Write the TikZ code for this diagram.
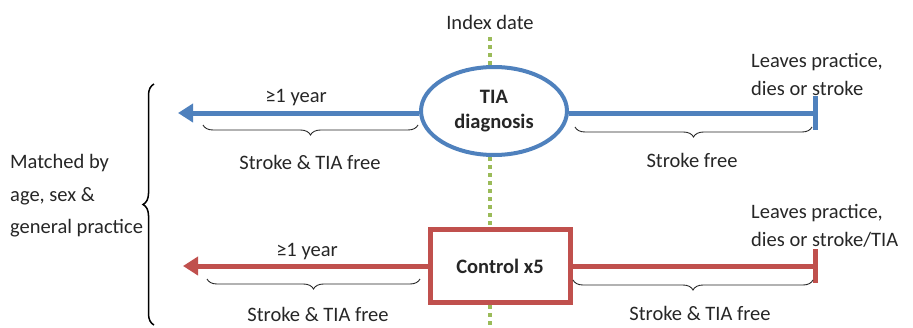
\documentclass[tikz,border=0pt]{standalone}
\usepackage{fontspec}
\setmainfont{Carlito}
\usetikzlibrary{arrows.meta,decorations.pathreplacing,shapes.geometric}
\definecolor{tiablue}{RGB}{79,129,189}
\definecolor{ctlred}{RGB}{192,80,77}
\definecolor{idxgreen}{RGB}{155,187,89}
\tikzset{lbl/.style={font=\fontsize{20.5}{28}\selectfont, text=black!85, inner sep=1pt}}
\tikzset{bl/.style={lbl, align=left}}
\tikzset{bb/.style={lbl, font=\fontsize{20.5}{25}\selectfont\bfseries, align=center, fill=white}}
\tikzset{br/.style={decorate, decoration={brace, mirror, amplitude=10pt}, line width=0.9pt, black!85}}
\tikzset{tline/.style={line width=5pt}}
\tikzset{idxdots/.style={idxgreen, line width=4pt, dash pattern=on 3.5pt off 4.5pt}}

\begin{document}
\begin{tikzpicture}[x=1pt, y=-1pt]
                \useasboundingbox (0,0) rectangle (913,327);
                % index date line
                \node[lbl] (idx) at (490,22) {Index date};
                \node[draw=tiablue, line width=4pt, ellipse, minimum width=146pt, minimum height=88pt, bb] (tia) at (494,111) {TIA\\diagnosis};
                \node[draw=ctlred, line width=5pt, minimum width=140pt, minimum height=73pt, bb] (ctl) at (500,266) {Control x5};
                \coordinate (dtop) at (490,37);
                \coordinate (dbot) at (490,327);
                \draw[idxdots] (dtop) -- (dtop |- tia.north);
                \draw[idxdots] (dtop |- tia.south) -- (dtop |- ctl.north);
                \draw[idxdots] (dtop |- ctl.south) -- (dbot);
                % TIA row
                \coordinate (tiaa) at (178,113);
                \coordinate (tiae) at (818,113);
                \draw[tline, tiablue, -{Triangle[width=18pt, length=15pt]}] (tia.west |- tiae) -- (tiaa);
                \draw[tline, tiablue, -{Bar[width=34pt]}] (tia.east |- tiae) -- (tiae);
                \node[lbl] (ty) at (296,98) {≥1 year};
                \coordinate (b1a) at (203,125);
                \coordinate (b1b) at (418,125);
                \coordinate (b2a) at (575,127);
                \coordinate (b2b) at (812,127);
                \draw[br] (b1a) -- (b1b);
                \draw[br] (b2a) -- (b2b);
                \node[lbl] (tf1) at (310,162) {Stroke \& TIA free};
                \node[lbl] (tf2) at (692,160) {Stroke free};
                \node[bl, anchor=west] (tl) at (750,74) {Leaves practice,\\dies or stroke};
                % control row
                \coordinate (ctla) at (183,266);
                \coordinate (ctle) at (818,266);
                \draw[tline, ctlred, -{Triangle[width=18pt, length=15pt]}] (ctl.west |- ctle) -- (ctla);
                \draw[tline, ctlred, -{Bar[width=34pt]}] (ctl.east |- ctle) -- (ctle);
                \node[lbl] (cy) at (307,252) {≥1 year};
                \coordinate (b3a) at (207,279);
                \coordinate (b3b) at (420,279);
                \coordinate (b4a) at (573,280);
                \coordinate (b4b) at (813,280);
                \draw[br] (b3a) -- (b3b);
                \draw[br] (b4a) -- (b4b);
                \node[lbl] (cf1) at (318,314) {Stroke \& TIA free};
                \node[lbl] (cf2) at (700,313) {Stroke \& TIA free};
                \node[bl, anchor=west] (cl) at (750,226) {Leaves practice,\\dies or stroke/TIA};
                % matching brace
                \coordinate (mb) at (154,325);
                \coordinate (mt) at (154,84);
                \draw[decorate, decoration={brace, amplitude=11pt}, line width=1.5pt] (mb) -- (mt);
                \node[bl, anchor=west, font=\fontsize{20.5}{32.5}\selectfont] (mat) at (9,196) {Matched by\\age, sex \&\\general practice};
            \end{tikzpicture}
\end{document}
